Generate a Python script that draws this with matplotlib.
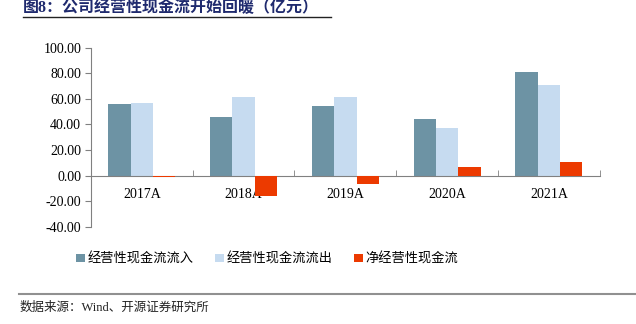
import matplotlib.pyplot as plt
import numpy as np

plt.rcParams['font.family'] = ['Liberation Serif', 'Noto Sans CJK SC']

years = ['2017A', '2018A', '2019A', '2020A', '2021A']
inflow = [55.8, 45.9, 54.2, 44.3, 81.0]
outflow = [57.0, 61.5, 61.2, 37.5, 70.6]
net = [-1.4, -15.6, -6.7, 7.0, 10.7]
names = ['经营性现金流流入', '经营性现金流流出', '净经营性现金流']
colors = ['#6d93a4', '#c6dbf0', '#ec3a00']

fig = plt.figure(figsize=(6.36, 3.24), dpi=100)
ax = fig.add_axes([0.143, 0.300, 0.800, 0.553])

x = np.arange(len(years))
w = 0.22
zs = [2, 2, 4]
for i, (vals, c, n) in enumerate(zip([inflow, outflow, net], colors, names)):
    ax.bar(x + (i - 1) * w, vals, w, color=c, label=n, zorder=zs[i])

ax.set_xlim(-0.5, len(years) - 0.5)
ax.set_ylim(-40, 100)
ax.set_yticks(np.arange(-40, 101, 20))
ax.set_yticklabels(['%.2f' % v for v in np.arange(-40, 101, 20)], fontsize=10)

for s in ['top', 'right']:
    ax.spines[s].set_visible(False)
ax.spines['bottom'].set_position(('data', 0))
ax.spines['bottom'].set_color('#808080')
ax.spines['left'].set_color('#808080')
ax.spines['bottom'].set_zorder(3)

ax.set_xticks(x)
ax.set_xticklabels(years, fontsize=10)
ax.tick_params(axis='x', which='major', length=0, pad=9)
ax.set_xticks(np.arange(0.5, len(years), 1), minor=True)
ax.tick_params(axis='x', which='minor', length=4, direction='in', color='#808080')
ax.tick_params(axis='y', length=4, color='#808080', pad=3)
for t in ax.get_xticklabels():
    t.set_zorder(5)

leg = ax.legend(loc='center left', bbox_to_anchor=(76 / 636.0, 1 - 259 / 324.0),
                bbox_transform=fig.transFigure, ncol=3, frameon=False, fontsize=9.5,
                handlelength=0.65, handleheight=0.65, handletextpad=0.25,
                columnspacing=1.6, borderpad=0, borderaxespad=0)

fig.text(0.036, 1 - 8 / 324.0, '图8：公司经营性现金流开始回暖（亿元）', fontsize=11.5,
         fontweight='bold', color='#1f2a6e', va='center', ha='left')
fig.add_artist(plt.Line2D([23 / 636.0, 331 / 636.0], [1 - 17 / 324.0] * 2, color='#222222', lw=1.0))
fig.add_artist(plt.Line2D([19 / 636.0, 1.0], [1 - 294 / 324.0] * 2, color='#909090', lw=1.5))
fig.text(20 / 636.0, 1 - 308 / 324.0, '数据来源：Wind、开源证券研究所', fontsize=9,
         va='center', ha='left', color='#222222')

fig.savefig('out.png', dpi=100)
